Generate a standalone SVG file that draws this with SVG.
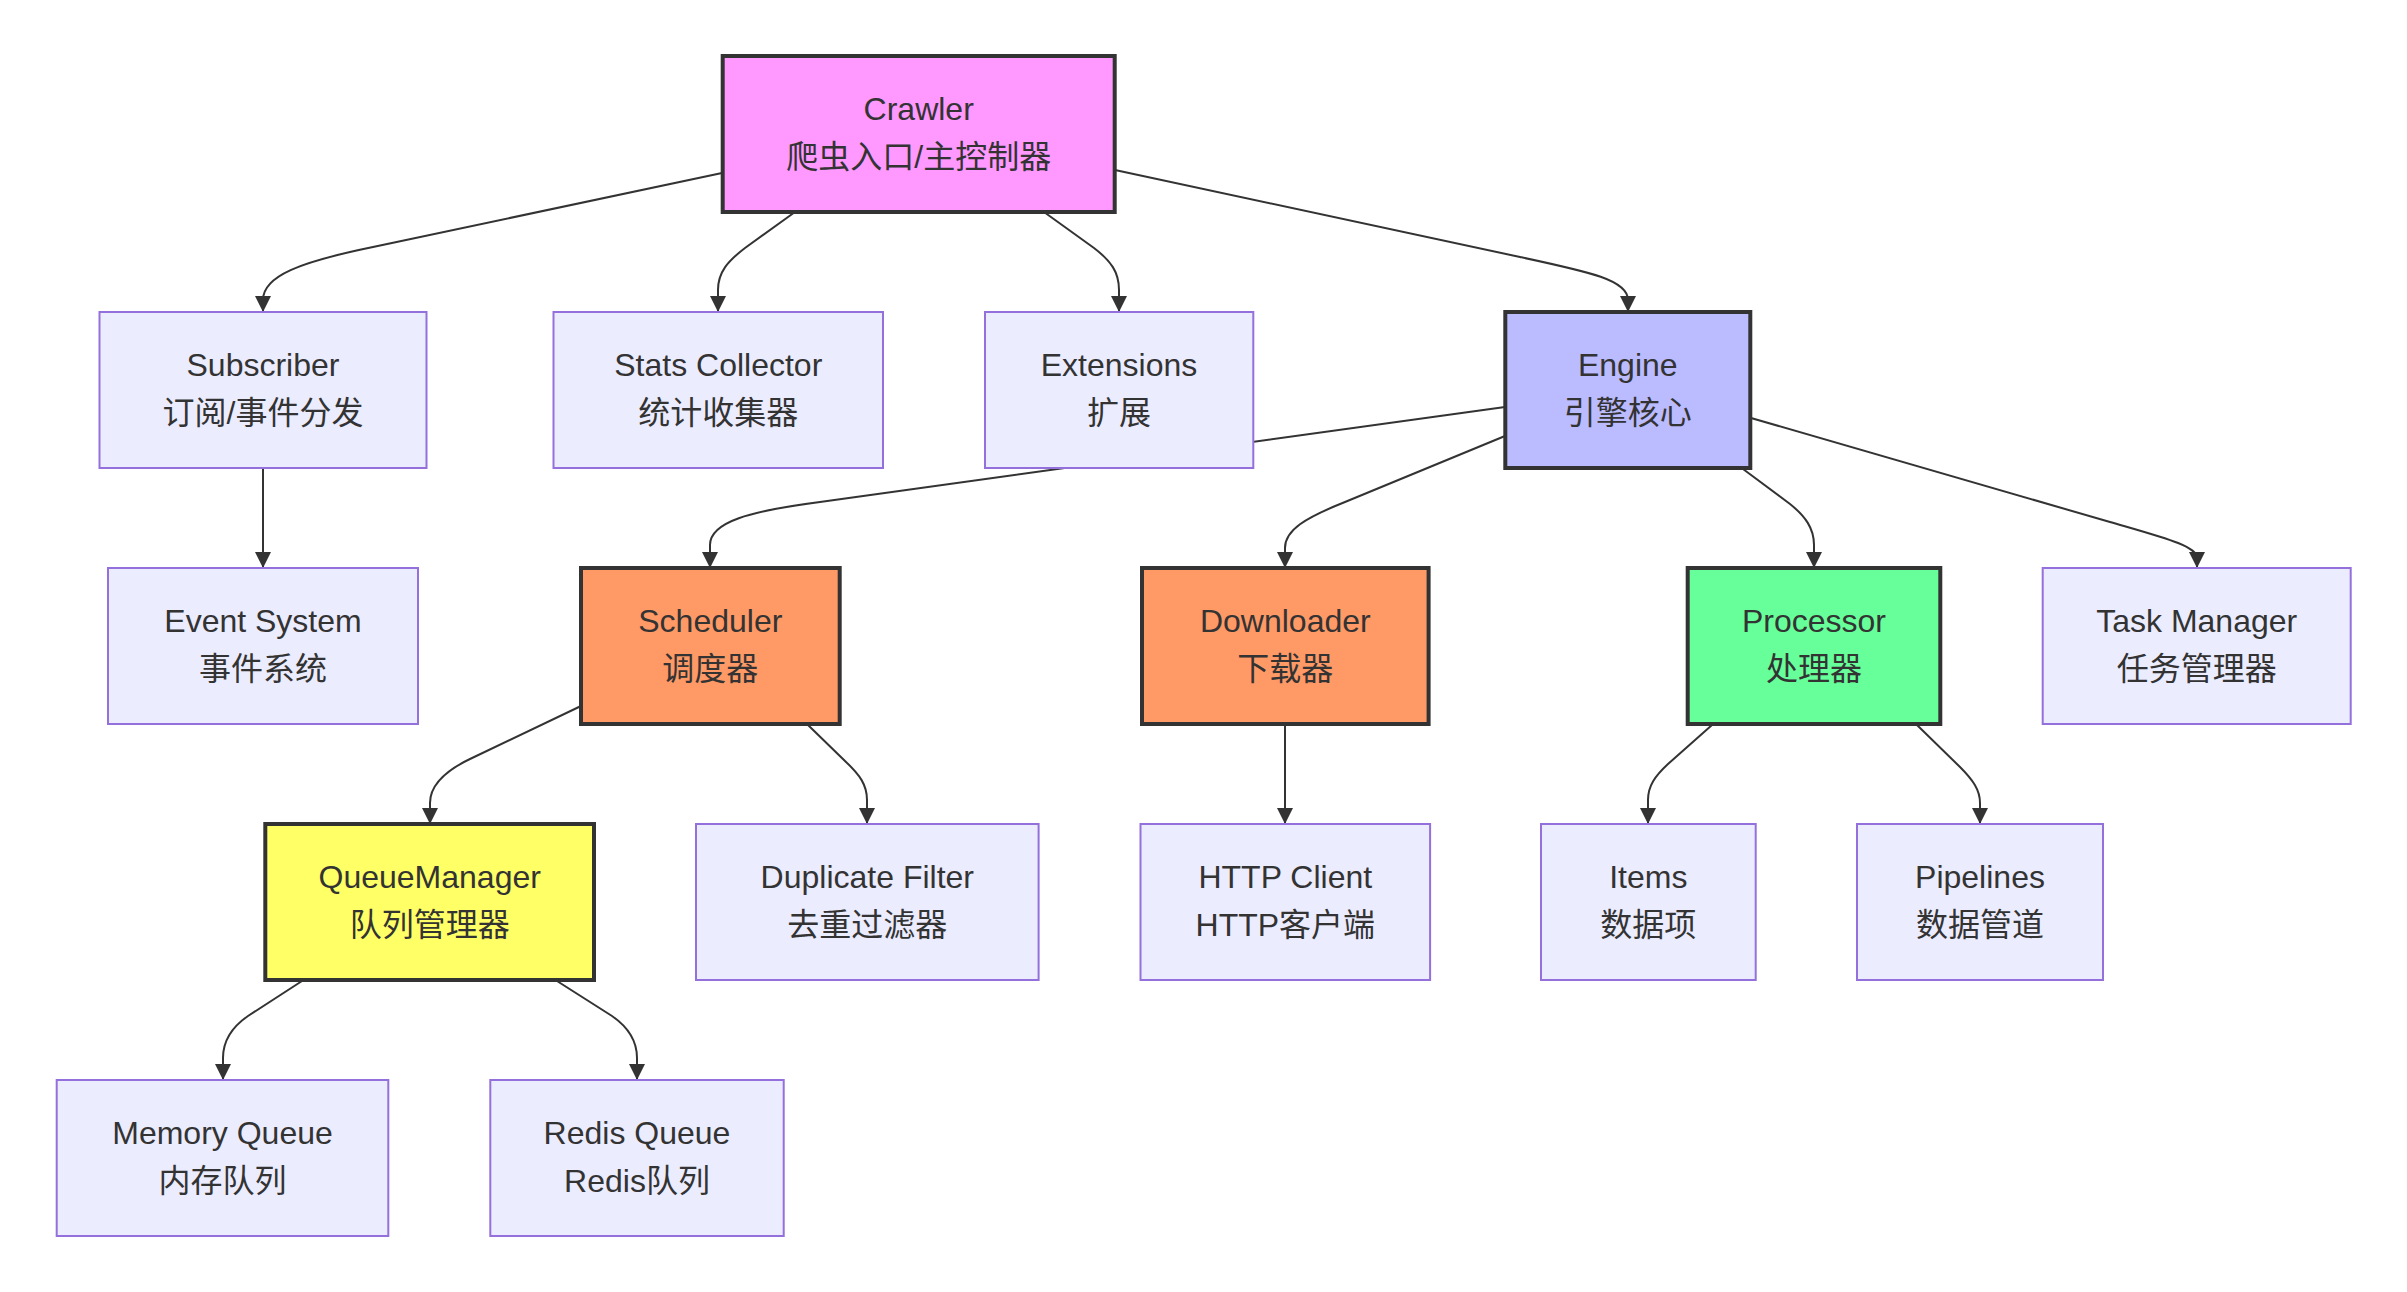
<svg xmlns="http://www.w3.org/2000/svg" width="2407" height="1292" viewBox="0 0 2407 1292">
<style>
  .edge { fill: none; stroke: #333333; stroke-width: 2; }
  .node rect { fill: #ECECFF; stroke: #9370DB; stroke-width: 2; }
  .node.crawler rect { fill: #FF99FF; stroke: #333333; stroke-width: 4; }
  .node.engine rect { fill: #BBBBFF; stroke: #333333; stroke-width: 4; }
  .node.orange rect { fill: #FF9966; stroke: #333333; stroke-width: 4; }
  .node.green rect { fill: #66FF99; stroke: #333333; stroke-width: 4; }
  .node.yellow rect { fill: #FFFF66; stroke: #333333; stroke-width: 4; }
  .node text { font-family: "Liberation Sans", "Noto Sans CJK SC", sans-serif; font-size: 32px; fill: #333333; text-anchor: middle; }
</style>
<defs>
  <marker id="arrow" viewBox="0 0 16 16" refX="16" refY="8" markerUnits="userSpaceOnUse" markerWidth="16" markerHeight="16" orient="auto">
    <path d="M0,0 L16,8 L0,16 z" fill="#333333"/>
  </marker>
</defs>
<rect width="2407" height="1292" fill="#FFFFFF"/>
<g id="connectors">
  <path class="edge" marker-end="url(#arrow)" d="M722,173 L373,247 C300,262 263,276 263,300 L263,312"/>
  <path class="edge" marker-end="url(#arrow)" d="M795,212 L745,248 C728,261 718,272 718,290 L718,312"/>
  <path class="edge" marker-end="url(#arrow)" d="M1044,212 L1094,248 C1111,261 1119,272 1119,290 L1119,312"/>
  <path class="edge" marker-end="url(#arrow)" d="M1115,170 L1520,257 C1590,272 1628,280 1628,300 L1628,312"/>
  <path class="edge" marker-end="url(#arrow)" d="M263,468 L263,568"/>
  <path class="edge" marker-end="url(#arrow)" d="M1505,407 L820,502 C750,511 710,522 710,545 L710,568"/>
  <path class="edge" marker-end="url(#arrow)" d="M1505,436 L1345,502 C1305,518 1285,530 1285,548 L1285,568"/>
  <path class="edge" marker-end="url(#arrow)" d="M1743,469 L1790,504 C1805,516 1814,528 1814,545 L1814,568"/>
  <path class="edge" marker-end="url(#arrow)" d="M1751,418 L2110,522 C2165,538 2197,546 2197,558 L2197,568"/>
  <path class="edge" marker-end="url(#arrow)" d="M581,706 L470,759 C445,771 430,785 430,803 L430,824"/>
  <path class="edge" marker-end="url(#arrow)" d="M808,725 L845,761 C860,775 867,785 867,800 L867,824"/>
  <path class="edge" marker-end="url(#arrow)" d="M1285,724 L1285,824"/>
  <path class="edge" marker-end="url(#arrow)" d="M1712,725 L1668,764 C1655,776 1648,786 1648,800 L1648,824"/>
  <path class="edge" marker-end="url(#arrow)" d="M1917,725 L1960,767 C1973,780 1980,790 1980,803 L1980,824"/>
  <path class="edge" marker-end="url(#arrow)" d="M302,981 L248,1016 C232,1027 223,1040 223,1058 L223,1080"/>
  <path class="edge" marker-end="url(#arrow)" d="M557,981 L612,1016 C628,1027 637,1040 637,1058 L637,1080"/>
</g>
<g id="node-crawler" class="node crawler">
  <rect x="722.7" y="56" width="392" height="156"/>
  <text x="918.7" y="120">Crawler</text>
  <text x="918.7" y="168">爬虫入口/主控制器</text>
</g>
<g id="node-subscriber" class="node">
  <rect x="99.5" y="312" width="327" height="156"/>
  <text x="263" y="376">Subscriber</text>
  <text x="263" y="424">订阅/事件分发</text>
</g>
<g id="node-stats" class="node">
  <rect x="553.5" y="312" width="329.5" height="156"/>
  <text x="718.25" y="376">Stats Collector</text>
  <text x="718.25" y="424">统计收集器</text>
</g>
<g id="node-extensions" class="node">
  <rect x="985" y="312" width="268.3" height="156"/>
  <text x="1119" y="376">Extensions</text>
  <text x="1119" y="424">扩展</text>
</g>
<g id="node-engine" class="node engine">
  <rect x="1505.3" y="312" width="245" height="156"/>
  <text x="1627.8" y="376">Engine</text>
  <text x="1627.8" y="424">引擎核心</text>
</g>
<g id="node-eventsystem" class="node">
  <rect x="108" y="568" width="310" height="156"/>
  <text x="263" y="632">Event System</text>
  <text x="263" y="680">事件系统</text>
</g>
<g id="node-scheduler" class="node orange">
  <rect x="581" y="568" width="258.7" height="156"/>
  <text x="710.3" y="632">Scheduler</text>
  <text x="710.3" y="680">调度器</text>
</g>
<g id="node-downloader" class="node orange">
  <rect x="1142" y="568" width="286.6" height="156"/>
  <text x="1285.3" y="632">Downloader</text>
  <text x="1285.3" y="680">下载器</text>
</g>
<g id="node-processor" class="node green">
  <rect x="1687.7" y="568" width="252.6" height="156"/>
  <text x="1814" y="632">Processor</text>
  <text x="1814" y="680">处理器</text>
</g>
<g id="node-taskmanager" class="node">
  <rect x="2042.7" y="568" width="308" height="156"/>
  <text x="2196.7" y="632">Task Manager</text>
  <text x="2196.7" y="680">任务管理器</text>
</g>
<g id="node-queuemanager" class="node yellow">
  <rect x="265.3" y="824" width="328.7" height="156"/>
  <text x="429.7" y="888">QueueManager</text>
  <text x="429.7" y="936">队列管理器</text>
</g>
<g id="node-duplicatefilter" class="node">
  <rect x="696" y="824" width="342.6" height="156"/>
  <text x="867.3" y="888">Duplicate Filter</text>
  <text x="867.3" y="936">去重过滤器</text>
</g>
<g id="node-httpclient" class="node">
  <rect x="1140.5" y="824" width="289.6" height="156"/>
  <text x="1285.3" y="888">HTTP Client</text>
  <text x="1285.3" y="936">HTTP客户端</text>
</g>
<g id="node-items" class="node">
  <rect x="1541" y="824" width="214.7" height="156"/>
  <text x="1648.3" y="888">Items</text>
  <text x="1648.3" y="936">数据项</text>
</g>
<g id="node-pipelines" class="node">
  <rect x="1857" y="824" width="246" height="156"/>
  <text x="1980" y="888">Pipelines</text>
  <text x="1980" y="936">数据管道</text>
</g>
<g id="node-memoryqueue" class="node">
  <rect x="56.7" y="1080" width="331.6" height="156"/>
  <text x="222.5" y="1144">Memory Queue</text>
  <text x="222.5" y="1192">内存队列</text>
</g>
<g id="node-redisqueue" class="node">
  <rect x="490.3" y="1080" width="293.4" height="156"/>
  <text x="637" y="1144">Redis Queue</text>
  <text x="637" y="1192">Redis队列</text>
</g>
</svg>
